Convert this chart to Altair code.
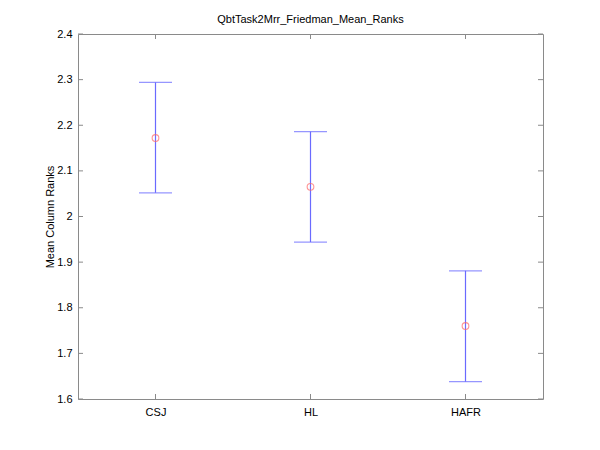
import json
import altair as alt
import pandas as pd

names = ["CSJ", "HL", "HAFR"]
positions = [1, 2, 3]
means = [2.172, 2.065, 1.760]
lower = [2.052, 1.944, 1.638]
upper = [2.294, 2.186, 1.881]
yticks = [1.6, 1.7, 1.8, 1.9, 2.0, 2.1, 2.2, 2.3, 2.4]

W, H = 465, 365
df = pd.DataFrame({"name": names, "pos": positions, "mean": means, "lo": lower, "hi": upper})
ydf = pd.DataFrame({"v": yticks})
xdf = pd.DataFrame({"v": positions})

xs = alt.Scale(domain=[0.5, 3.5], nice=False, zero=False)
ys = alt.Scale(domain=[1.6, 2.4], nice=False, zero=False)
label_expr = json.dumps([""] + names) + "[datum.value]"

xax = alt.Axis(values=positions, labelExpr=label_expr, title=None, grid=False, domain=False,
               ticks=False, labelPadding=7, labelFontSize=11, labelColor="#000",
               labelFont="Liberation Sans")
yax = alt.Axis(values=yticks, format=".1~f", title="Mean Column Ranks", grid=False, domain=False,
               ticks=False, labelPadding=6, labelFontSize=11, labelColor="#000",
               labelFont="Liberation Sans", titleFont="Liberation Sans", titleFontSize=11,
               titleFontWeight="normal", titlePadding=1, titleColor="#000")

blue = "#6a6aff"
base = alt.Chart(df)
bars = base.mark_rule(stroke=blue, color=blue, strokeWidth=1.2).encode(
    x=alt.X("pos:Q", scale=xs, axis=xax),
    y=alt.Y("lo:Q", scale=ys, axis=yax),
    y2="hi:Q",
)
cap_hi = base.mark_tick(color=blue, orient="horizontal", size=33, thickness=1.2).encode(
    x=alt.X("pos:Q", scale=xs), y=alt.Y("hi:Q", scale=ys))
cap_lo = base.mark_tick(color=blue, orient="horizontal", size=33, thickness=1.2).encode(
    x=alt.X("pos:Q", scale=xs), y=alt.Y("lo:Q", scale=ys))
pts = base.mark_point(shape="circle", color="#ff6666", filled=False, size=45, strokeWidth=1.1).encode(
    x=alt.X("pos:Q", scale=xs), y=alt.Y("mean:Q", scale=ys))

tc = "#8a8a8a"
ytl = alt.Chart(ydf).mark_rule(color=tc).encode(
    y=alt.Y("v:Q", scale=ys), x=alt.value(0), x2=alt.value(5))
ytr = alt.Chart(ydf).mark_rule(color=tc).encode(
    y=alt.Y("v:Q", scale=ys), x=alt.value(W - 5), x2=alt.value(W))
xtb = alt.Chart(xdf).mark_rule(color=tc).encode(
    x=alt.X("v:Q", scale=xs), y=alt.value(H - 5), y2=alt.value(H))
xtt = alt.Chart(xdf).mark_rule(color=tc).encode(
    x=alt.X("v:Q", scale=xs), y=alt.value(0), y2=alt.value(5))

chart = alt.layer(ytl, ytr, xtb, xtt, bars, cap_hi, cap_lo, pts).properties(
    width=W, height=H,
    title=alt.TitleParams("QbtTask2Mrr_Friedman_Mean_Ranks", font="Liberation Sans",
                          fontSize=11, fontWeight="normal", color="#000", offset=3),
    autosize=alt.AutoSizeParams(type="none"),
    padding={"left": 70, "top": 26, "right": 49, "bottom": 45},
).configure_view(stroke=tc, strokeWidth=1)

chart.save("out.html", embed_options={"renderer": "svg", "actions": False})
